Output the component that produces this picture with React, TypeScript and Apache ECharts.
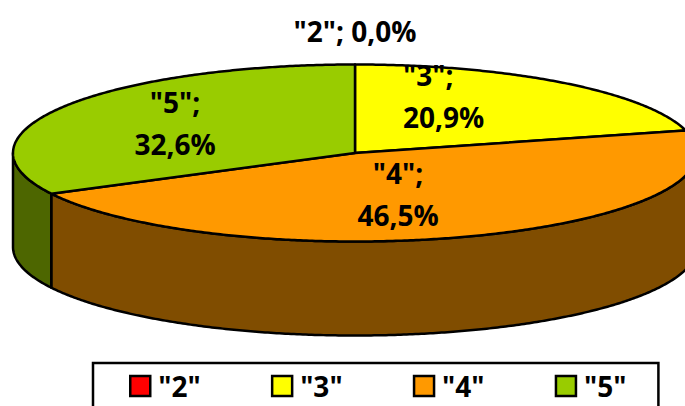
import React, { useEffect, useRef } from "react";
import * as echarts from "echarts";

const categories = ['"2"', '"3"', '"4"', '"5"'];
const percents = [0.0, 20.9, 46.5, 32.6];
const topColors = ["#FF0000", "#FFFF00", "#FF9900", "#99CC00"];
const wallColors = ["#800000", "#808000", "#804D00", "#4D6600"];

// Pie geometry in pixels
const CX = 355;
const CY = 153;
const RX = 342;
const RY = 88.5;
const DEPTH = 94;
// Where each data label sits
const labelX = [355, 403, 398, 175];
const labelY = [31, 96, 194, 123];
const labelAlign = ["center", "left", "center", "center"];
const FONT = "'Open Sans'";
const LABEL_SIZE = 28;

const point = (deg: number, dy = 0): number[] => {
  const t = (deg * Math.PI) / 180;
  return [CX + RX * Math.sin(t), CY - RY * Math.cos(t) + dy];
};

const arc = (from: number, to: number, dy = 0): number[][] => {
  const pts: number[][] = [];
  const steps = Math.max(2, Math.ceil(Math.abs(to - from) * 2));
  for (let i = 0; i <= steps; i++) pts.push(point(from + ((to - from) * i) / steps, dy));
  return pts;
};

const startAngle = (index: number): number =>
  percents.slice(0, index).reduce((a, b) => a + b, 0) * 3.6;

const labelText = (i: number): string => {
  const pct = percents[i].toFixed(1).replace(".", ",") + "%";
  return percents[i] === 0 ? `${categories[i]}; ${pct}` : `${categories[i]};\n${pct}`;
};

const renderSlice = (i: number) => (_params: any, api: any) => {
  const sweep = (api.value(0) as number) * 3.6;
  const a = startAngle(i);
  const b = a + sweep;
  const children: any[] = [];
  const lineStyle = { stroke: "#000", lineWidth: 2.5, lineJoin: "round" };
  if (sweep > 0) {
    const wa = Math.max(a, 90);
    const wb = Math.min(b, 270);
    if (wb > wa) {
      children.push({
        type: "polygon",
        shape: { points: [...arc(wa, wb), ...arc(wb, wa, DEPTH)] },
        style: { fill: wallColors[i], ...lineStyle },
        z2: 1,
      });
    }
    children.push({
      type: "polygon",
      shape: { points: [[CX, CY], ...arc(a, b)] },
      style: { fill: topColors[i], ...lineStyle },
      z2: 2,
    });
  }
  children.push({
    type: "text",
    z2: 3,
    style: {
      text: labelText(i),
      x: labelX[i],
      y: labelY[i],
      align: labelAlign[i],
      verticalAlign: "middle",
      fontFamily: FONT,
      fontWeight: "bold",
      fontSize: LABEL_SIZE,
      lineHeight: 42,
      fill: "#000",
    },
  });
  return { type: "group", children };
};

export default function App() {
  const ref = useRef<HTMLDivElement>(null);
  useEffect(() => {
    document.body.style.margin = "0";
    const chart = echarts.init(ref.current!, undefined, { renderer: "svg" });
    chart.setOption({
      animation: false,
      legend: {
        show: true,
        data: categories,
        left: 93,
        top: 363,
        orient: "horizontal",
        icon: "rect",
        selectedMode: false,
        itemWidth: 20,
        itemHeight: 20,
        itemGap: 70.2,
        padding: [9, 32, 30, 36],
        borderColor: "#000",
        borderWidth: 2.5,
        backgroundColor: "#fff",
        itemStyle: { borderColor: "#000", borderWidth: 2.5 },
        textStyle: {
          fontFamily: FONT,
          fontWeight: "bold",
          fontSize: 28,
          color: "#000",
          padding: [0, 0, 0, 3],
        },
      },
      series: categories.map((name, i) => ({
        type: "custom",
        name,
        coordinateSystem: "none",
        itemStyle: { color: topColors[i] },
        data: [[percents[i]]],
        renderItem: renderSlice(i),
      })),
    });
    return () => chart.dispose();
  }, []);
  return <div ref={ref} style={{ width: 685, height: 406 }} />;
}
